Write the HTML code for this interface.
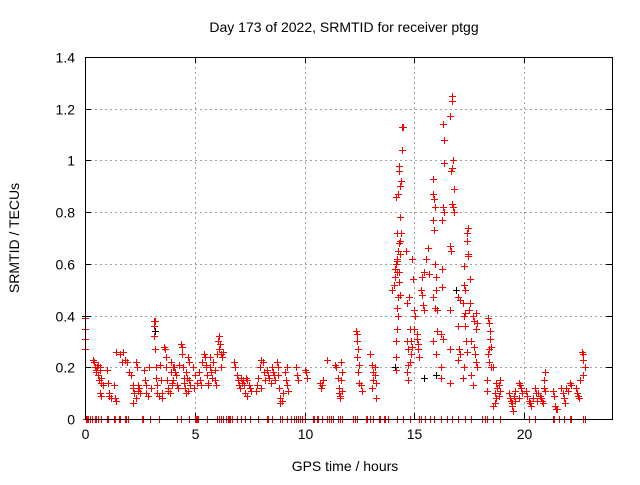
<!DOCTYPE html>
<html><head><meta charset="utf-8"><style>
body{margin:0;background:#fff;width:640px;height:480px;overflow:hidden}
svg{font-family:"Liberation Sans",sans-serif;font-size:14px}
</style></head><body>
<svg id="chart" width="640" height="480" viewBox="0 0 640 480">
<rect width="640" height="480" fill="#fff"/>
<text x="344" y="32" text-anchor="middle">Day 173 of 2022, SRMTID for receiver ptgg</text>
<text transform="translate(19,238) rotate(-90)" text-anchor="middle">SRMTID / TECUs</text>
<text x="345" y="471" text-anchor="middle">GPS time / hours</text>
<g id="grid"></g>
<g id="axes"></g>
<g id="black"></g>
<g id="red"></g>
<rect x="85.5" y="57.5" width="527" height="362" fill="none" stroke="#000" stroke-width="1"/>
</svg>
<script>
const xTicks=[0,5,10,15,20];
const yTicks=[0,0.2,0.4,0.6,0.8,1,1.2,1.4];
const yTickLabels=["0","0.2","0.4","0.6","0.8","1","1.2","1.4"];
const zeroTimes=[0.05,0.1,0.15,0.25,0.3,0.45,0.5,0.6,0.75,1.0,1.05,1.3,1.35,1.55,1.6,1.8,1.85,1.95,2.6,2.65,2.95,3.35,4.2,4.35,4.75,5.0,5.05,5.1,5.15,5.55,6.0,6.1,6.2,6.3,6.4,6.5,6.55,6.6,6.7,6.9,7.1,7.3,7.5,7.9,8.3,8.35,8.5,8.9,8.95,9.2,9.4,9.5,9.6,9.7,9.8,9.9,10.0,10.4,10.45,10.55,10.6,10.8,11.0,11.1,11.2,11.3,11.5,11.6,11.7,12.2,12.3,12.4,12.8,12.85,13.0,13.1,13.4,13.45,13.6,13.65,13.8,14.2,14.5,14.8,15.2,15.3,15.5,15.7,15.9,16.2,16.5,16.7,17.0,17.3,17.6,18.1,18.2,18.3,18.6,18.9,20.2,20.5,21.3,21.35,21.6,21.8,22.1,22.15,22.7,22.75];
const redPoints=[
[0,.39],[0,.35],[0,.31],[0,.27],
[.35,.23],[.4,.22],[.45,.2],[.5,.19],[.5,.18],[.55,.2],[.6,.21],[.6,.17],[.65,.15],[.7,.19],[.7,.2],[.75,.16],[.75,.14],[.8,.13],[.7,.1],[.75,.09],
[1.0,.19],[1.05,.14],[1.1,.1],[1.1,.09],[1.2,.08],[1.3,.13],[1.35,.08],[1.4,.07],[1.4,.26],[1.6,.25],[1.7,.22],
[1.75,.26],[1.8,.23],[1.9,.22],[2.0,.18],
[2.1,.17],[2.2,.13],[2.2,.12],[2.25,.1],[2.2,.06],[2.3,.08],[2.3,.22],[2.35,.2],[2.4,.11],[2.4,.13],[2.45,.12],[2.5,.1],
[2.7,.19],[2.75,.15],[2.8,.13],[2.8,.1],[2.85,.09],[2.9,.2],[3.0,.12],
[3.15,.38],[3.2,.38],[3.15,.36],[3.15,.32],[3.2,.27],[3.25,.2],[3.25,.16],[3.3,.13],[3.3,.1],[3.35,.09],
[3.4,.21],[3.45,.15],[3.5,.1],[3.5,.08],[3.6,.28],[3.65,.27],[3.7,.24],[3.7,.2],[3.75,.15],[3.8,.12],[3.8,.11],[3.85,.1],[3.9,.22],[3.9,.18],[3.95,.14],[3.95,.13],[4.0,.2],[4.0,.15],
[4.05,.2],[4.1,.18],[4.15,.17],[4.2,.13],[4.25,.12],[4.3,.21],[4.35,.29],[4.4,.28],[4.4,.25],[4.45,.2],[4.5,.16],[4.5,.14],[4.55,.12],[4.6,.1],[4.6,.18],[4.65,.16],[4.7,.24],[4.75,.22],[4.75,.15],[4.8,.13],[4.7,.11],
[4.9,.2],[4.95,.12],[5.0,.17],[5.1,.14],
[5.2,.18],[5.25,.15],[5.3,.13],[5.35,.22],[5.4,.25],[5.45,.24],[5.5,.21],[5.5,.2],[5.55,.17],[5.6,.14],[5.6,.13],[5.7,.24],[5.7,.2],[5.75,.18],[5.8,.16],[5.85,.22],[5.9,.19],[5.9,.15],[5.95,.13],[6.0,.25],
[6.05,.3],[6.1,.32],[6.15,.29],[6.1,.27],[6.2,.25],[6.25,.24],[6.2,.2],[6.3,.26],
[6.8,.22],[6.85,.2],[6.9,.17],[6.95,.15],[7.0,.13],[7.05,.12],[7.1,.16],[7.15,.14],[7.2,.15],[7.25,.13],[7.3,.1],[7.35,.16],[7.4,.15],[7.45,.13],[7.5,.12],[7.55,.11],[7.4,.09],
[7.8,.11],[7.85,.13],[7.9,.16],[7.95,.2],[8.0,.23],[8.1,.22],[8.15,.18],[8.2,.15],[8.0,.12],[8.3,.19],[8.35,.17],[8.4,.16],[8.45,.14],[8.5,.2],[8.55,.18],[8.6,.17],[8.65,.15],
[8.75,.22],[8.8,.2],[8.8,.17],[8.85,.12],[8.9,.08],[8.9,.06],[8.95,.07],[9.0,.1],
[9.1,.18],[9.15,.15],[9.2,.2],[9.2,.13],[9.25,.11],
[9.6,.2],[9.65,.17],[9.7,.15],[10.0,.19],[10.05,.18],[10.1,.16],
[10.7,.14],[10.75,.12],[10.8,.13],[10.85,.15],[11.0,.23],
[11.4,.21],[11.45,.2],[11.5,.16],[11.55,.12],[11.55,.1],[11.6,.09],[11.6,.08],[11.65,.22],[11.7,.18],[11.65,.15],[11.7,.11],
[12.35,.34],[12.4,.33],[12.4,.3],[12.45,.27],[12.4,.24],[12.5,.21],[12.45,.18],[12.5,.14],[12.55,.13],[12.6,.11],
[13.0,.25],[13.05,.21],[13.1,.18],[13.1,.15],[13.05,.12],[13.2,.2],[13.2,.17],[13.25,.08],[13.25,.14],
[14.0,.5],[14.05,.52],[14.1,.55],[14.1,.58],[14.15,.6],[14.2,.61],[14.25,.65],[14.2,.72],[14.15,.86],[14.25,.87],[14.35,.9],[14.4,.92],[14.3,.96],[14.3,.98],[14.45,1.04],[14.45,1.13],[14.5,1.13],[14.35,.78],[14.4,.72],[14.35,.69],[14.3,.68],[14.35,.64],[14.2,.57],[14.3,.53],[14.25,.47],[14.2,.43],[14.25,.4],[14.2,.35],[14.15,.3],[14.15,.24],[14.15,.19],[14.2,.62],[14.3,.57],[14.35,.48],[14.6,.65],
[14.65,.3],[14.7,.27],[14.7,.21],[14.65,.18],[14.7,.15],[14.65,.45],[14.75,.47],[14.8,.35],[14.85,.3],[14.9,.28],[14.85,.25],[14.8,.22],[15.0,.35],[15.0,.42],[15.05,.4],[15.1,.33],[15.1,.31],[15.15,.29],[15.15,.27],[15.2,.24],[14.9,.62],[14.95,.54],
[15.35,.55],[15.3,.5],[15.35,.48],[15.4,.44],[15.45,.42],[15.45,.57],[15.55,.62],[15.6,.66],[15.65,.56],
[15.85,.93],[15.85,.87],[15.9,.85],[15.95,.82],[15.85,.77],[15.9,.73],[15.95,.6],[16.0,.55],[16.0,.5],[15.85,.47],[15.95,.43],[16.05,.42],[15.85,.3],[16.0,.25],[16.05,.34],
[16.3,.82],[16.35,.8],[16.25,.77],[16.25,.58],[16.25,.51],[16.3,.31],[16.2,.33],[16.2,.2],[16.2,.16],[16.35,1.08],[16.3,1.14],[16.35,.99],
[16.7,1.23],[16.7,1.25],[16.6,1.17],[16.75,1.0],[16.7,.97],[16.65,.96],[16.8,.89],[16.7,.83],[16.75,.82],[16.8,.8],[16.6,.67],[16.65,.65],[16.6,.42],[16.6,.27],[16.6,.14],
[17.0,.47],[17.1,.46],[17.0,.36],[17.05,.27],[17.1,.25],[17.0,.23],[17.25,.59],[17.25,.52],[17.3,.5],[17.2,.45],[17.3,.41],[17.25,.4],[17.3,.36],[17.35,.3],[17.4,.26],[17.25,.2],[17.2,.16],[17.45,.74],[17.4,.72],[17.4,.69],[17.45,.64],[17.45,.63],
[17.55,.54],[17.55,.45],[17.5,.42],[17.65,.4],[17.7,.38],[17.6,.3],[17.7,.28],[17.75,.25],[17.8,.22],[17.85,.2],[17.6,.17],[17.65,.13],[17.8,.41],[17.85,.37],[17.8,.35],
[18.35,.39],[18.4,.37],[18.45,.34],[18.45,.31],[18.5,.28],[18.4,.27],[18.35,.25],[18.4,.22],[18.5,.2],[18.3,.15],[18.3,.11],[18.6,.2],
[18.7,.14],[18.75,.12],[18.65,.1],[18.7,.08],[18.65,.06],[18.6,.05],[18.9,.15],[18.85,.13],[18.9,.11],[18.85,.09],
[19.3,.1],[19.35,.08],[19.4,.07],[19.45,.06],[19.45,.05],[19.5,.03],[19.6,.11],[19.55,.09],[19.6,.07],[19.75,.14],[19.8,.13],[19.85,.12],[19.9,.1],[19.75,.08],
[20.1,.11],[20.15,.09],[20.2,.07],[20.25,.06],[20.3,.05],[20.4,.08],[20.5,.12],[20.55,.1],[20.6,.07],
[20.65,.1],[20.7,.09],[20.75,.08],[20.8,.07],[20.85,.06],[20.95,.18],[20.9,.15],[20.9,.12],[20.95,.11],
[21.3,.11],[21.35,.09],[21.4,.05],[21.45,.04],[21.5,.04],
[21.7,.12],[21.75,.1],[21.8,.08],[21.85,.06],[21.9,.12],[22.0,.11],[22.1,.14],[22.15,.13],
[22.35,.12],[22.4,.1],[22.45,.09],[22.5,.08],[22.55,.15],[22.65,.26],[22.7,.25],[22.7,.23],[22.75,.2],[22.7,.17]
];
const blackPoints=[[0,.4],[3.2,.34],[14.1,.2],[15.45,.16],[16.0,.17],[16.9,.5]];

const X0=85,X1=612,Y0=419,Y1=57;
function xs(h){return X0+(h/24)*(X1-X0);}
function ys(v){return Y0-(v/1.4)*(Y0-Y1);}
const NS="http://www.w3.org/2000/svg";
const grid=document.getElementById('grid'),axes=document.getElementById('axes');
function mk(tag,attrs,parent){const e=document.createElementNS(NS,tag);for(const k in attrs)e.setAttribute(k,attrs[k]);parent.appendChild(e);return e;}
xTicks.forEach(t=>{
  const x=Math.round(xs(t))+0.5;
  if(t>0){const g=mk('line',{x1:x,x2:x,y1:Y1,y2:Y0,stroke:'#a0a0a0','stroke-dasharray':'2,3'},grid);
  
  }
  mk('line',{x1:x,x2:x,y1:Y0,y2:Y0-6,stroke:'#000'},axes);
  mk('line',{x1:x,x2:x,y1:Y1,y2:Y1+6,stroke:'#000'},axes);
  const tx=mk('text',{x:x,y:Y0+20,'text-anchor':'middle'},axes);tx.textContent=String(t);
  
  
});
yTicks.forEach((t,i)=>{
  const y=Math.round(ys(t))+0.5;
  if(t>0&&t<1.4){const g=mk('line',{x1:X0,x2:X1,y1:y,y2:y,stroke:'#a0a0a0','stroke-dasharray':'2,3'},grid);
  
  }
  mk('line',{x1:X0,x2:X0+6,y1:y,y2:y,stroke:'#000'},axes);
  mk('line',{x1:X1,x2:X1-6,y1:y,y2:y,stroke:'#000'},axes);
  const tx=mk('text',{x:X0-10,y:y+5,'text-anchor':'end'},axes);tx.textContent=yTickLabels[i];
  
  
});
function plus(pts,color,parent,name){
  let d='';
  pts.forEach(p=>{const x=Math.round(xs(p[0]))+0.5,y=Math.round(ys(p[1]))+0.5;d+=`M${x-3.5} ${y}h7M${x} ${y-3.5}v7`;});
  const p=mk('path',{d:d,stroke:color,'stroke-width':1,fill:'none','shape-rendering':'crispEdges'},parent);
  
  
}
plus(blackPoints,'#000',document.getElementById('black'),'black-markers');
plus(zeroTimes.map(t=>[t,0]),'#ff0000',document.getElementById('red'),'zero-markers');
plus(redPoints,'#ff0000',document.getElementById('red'),'red-markers');
</script>
</body></html>
